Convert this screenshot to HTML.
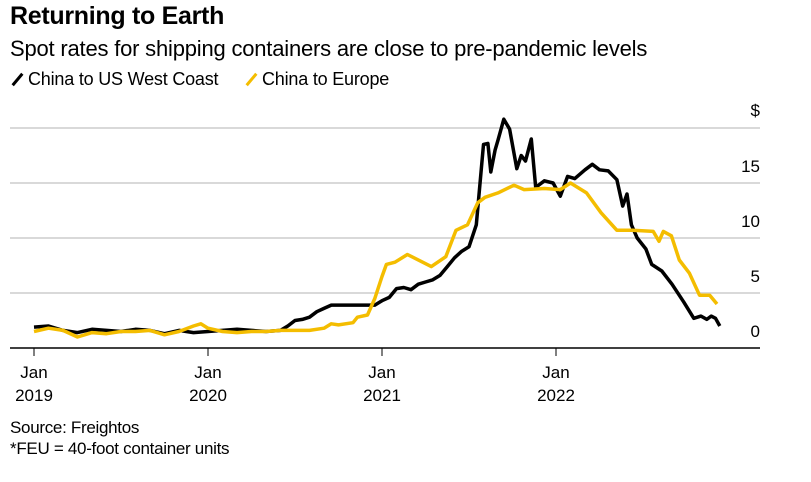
<!DOCTYPE html>
<html><head><meta charset="utf-8">
<style>
body{margin:0;background:#fff;font-family:"Liberation Sans",sans-serif;color:#000;}
#wrap{position:relative;width:811px;height:482px;overflow:hidden;}
.t{position:absolute;white-space:nowrap;}
</style></head><body>
<div id="wrap">
<div class="t" style="left:10px;top:2px;font-size:25px;font-weight:bold;letter-spacing:-0.3px">Returning to Earth</div>
<div class="t" style="left:10px;top:36px;font-size:22px;letter-spacing:-0.2px">Spot rates for shipping containers are close to pre-pandemic levels</div>
<div class="t" style="left:10px;top:69px;font-size:18px;letter-spacing:-0.2px"><span style="display:inline-block;width:3px;height:15px;background:#000;transform:rotate(40deg);margin:0 9px -2px 6px"></span>China to US West Coast</div>
<div class="t" style="left:244px;top:69px;font-size:18px;letter-spacing:-0.2px"><span style="display:inline-block;width:3px;height:15px;background:#f4bd00;transform:rotate(40deg);margin:0 9px -2px 6px"></span>China to Europe</div>
<svg id="chart" width="811" height="482" style="position:absolute;left:0;top:0"></svg>
<div class="t" style="left:10px;top:418px;font-size:17px;letter-spacing:-0.3px">Source: Freightos</div>
<div class="t" style="left:10px;top:439px;font-size:17px;letter-spacing:-0.3px">*FEU = 40-foot container units</div>
</div>
<script>
const yTicks=[0,5,10,15,20];
const yTickLabels=["0","5","10","15",""];
const xTickMonths=[0,12,24,36];
const xTickLabels=[["Jan","2019"],["Jan","2020"],["Jan","2021"],["Jan","2022"]];
const usMonths=[0,1,2,3,4,5,6,7,8,9,10,11,12,13,14,15,16,17,17.5,18,18.5,19,19.5,20,20.5,21,22,23,23.5,24,24.5,25,25.5,26,26.5,27,27.5,28,28.5,29,29.5,30,30.5,31,31.3,31.5,31.8,32,32.4,32.8,33.3,33.6,33.9,34.3,34.6,35.2,35.8,36.3,36.8,37.3,38,38.5,39,39.6,40.2,40.6,40.9,41.2,41.6,42.2,42.6,43.3,44,44.8,45.5,46,46.4,46.7,47,47.3];
const usValues=[1.9,2.0,1.6,1.4,1.7,1.6,1.5,1.7,1.6,1.3,1.6,1.4,1.5,1.6,1.7,1.6,1.5,1.6,2.0,2.5,2.6,2.8,3.3,3.6,3.9,3.9,3.9,3.9,3.9,4.3,4.6,5.4,5.5,5.3,5.8,6.0,6.2,6.6,7.4,8.2,8.8,9.2,11.2,18.5,18.6,16.0,18.0,18.9,20.8,19.9,16.3,17.5,17.0,19.0,14.6,15.2,15.0,13.8,15.6,15.4,16.2,16.7,16.2,16.1,15.3,12.9,14.0,11.2,10.0,9.0,7.6,7.0,5.8,4.2,2.7,2.9,2.6,2.9,2.7,2.0];
const euMonths=[0,1,2,3,4,5,6,7,8,9,10,11,11.5,12,13,14,15,16,17,18,19,20,20.5,21,22,22.3,23,23.5,24,24.3,24.9,25.75,27.4,28.4,29.1,29.9,30.6,31.1,32,33.1,33.8,35.2,36.3,37,38.1,39.1,40.2,41.3,42.7,43.1,43.4,43.96,44.5,45.2,45.9,46.6,47.1];
const euValues=[1.5,1.8,1.6,1.0,1.4,1.3,1.5,1.5,1.6,1.2,1.5,2.0,2.2,1.8,1.5,1.4,1.5,1.5,1.6,1.6,1.6,1.8,2.2,2.1,2.3,2.8,3.0,4.5,6.5,7.6,7.8,8.5,7.4,8.3,10.7,11.2,13.2,13.7,14.1,14.8,14.4,14.5,14.4,15.0,14.1,12.3,10.7,10.7,10.6,9.7,10.6,10.2,8.0,6.8,4.8,4.8,4.0];

const svg=document.getElementById('chart');
const NS='http://www.w3.org/2000/svg';
const x=m=>34+m*14.5;
const y=v=>348-v*11;
function el(tag,attrs){const e=document.createElementNS(NS,tag);for(const k in attrs)e.setAttribute(k,attrs[k]);svg.appendChild(e);return e;}
yTicks.forEach((v,i)=>{
  if(v>0){const g=el('line',{x1:10,x2:760,y1:y(v),y2:y(v),stroke:'#d9d9d9','stroke-width':2});
  
  }
  if(yTickLabels[i]){const t=el('text',{x:760,y:y(v)-11,'text-anchor':'end','font-size':17,'font-family':'Liberation Sans, sans-serif'});t.textContent=yTickLabels[i];
  
  }
});
const dl=el('text',{x:760,y:116,'text-anchor':'end','font-size':17,'font-family':'Liberation Sans, sans-serif'});dl.textContent='$';


const ax=el('line',{x1:10,x2:760,y1:348,y2:348,stroke:'#000','stroke-width':1.5});


xTickMonths.forEach((m,i)=>{
  const tk=el('line',{x1:x(m),x2:x(m),y1:348,y2:356,stroke:'#000','stroke-width':1});
  
  
  xTickLabels[i].forEach((s,j)=>{const t=el('text',{x:x(m),y:378+j*23,'text-anchor':'middle','font-size':17,'font-family':'Liberation Sans, sans-serif'});t.textContent=s;
  
  });
});
function line(ms,vs,color,name){
  const d=ms.map((m,i)=>(i?'L':'M')+x(m).toFixed(1)+' '+y(vs[i]).toFixed(1)).join(' ');
  const p=el('path',{d:d,fill:'none',stroke:color,'stroke-width':3.5,'stroke-linejoin':'round'});
  
  
}
line(usMonths,usValues,'#000','series-us-west-coast');
line(euMonths,euValues,'#f4bd00','series-europe');
</script>
</body></html>
